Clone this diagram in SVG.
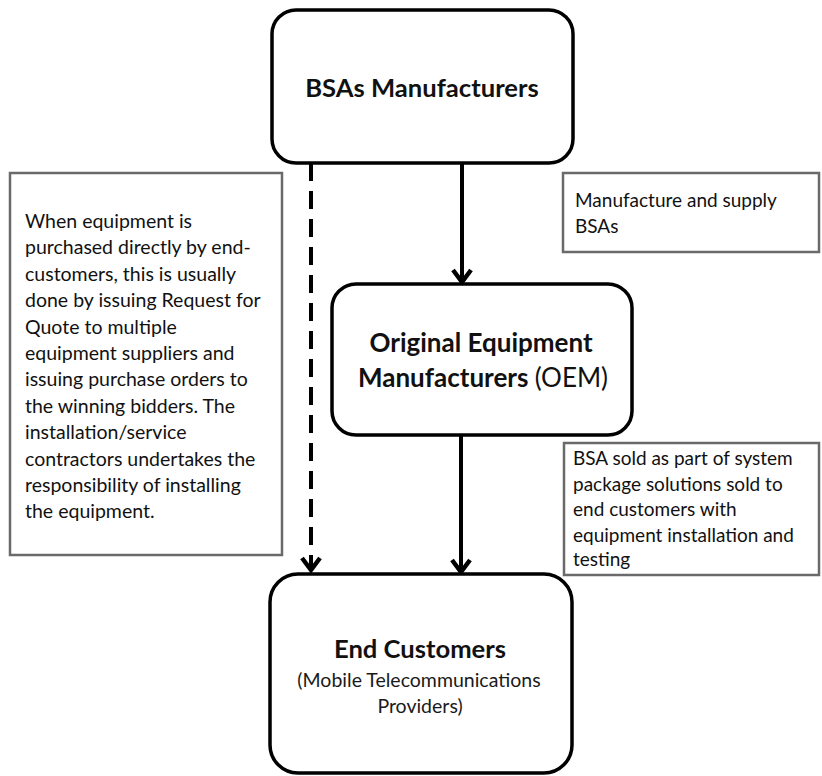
<svg xmlns="http://www.w3.org/2000/svg" width="822" height="776" viewBox="0 0 822 776">
<style>
.node{fill:#fff;stroke:#000;stroke-width:3.5}
.note{fill:#fff;stroke:#6a6a6a;stroke-width:2.5}
.lbl{font-family:Lato,"Liberation Sans",sans-serif;font-weight:bold;fill:#111;text-anchor:middle}
.sub{font-family:Lato,"Liberation Sans",sans-serif;fill:#1a1a1a;text-anchor:middle;font-size:19.5px}
.txt{font-family:Lato,"Liberation Sans",sans-serif;fill:#111;font-size:19.5px}
.txtr{font-family:Lato,"Liberation Sans",sans-serif;fill:#111;font-size:19px}
.conn{stroke:#000;fill:none;stroke-width:4}
</style>
<defs>
<marker id="ah" markerUnits="userSpaceOnUse" markerWidth="20" markerHeight="24" refX="15" refY="12" orient="auto" viewBox="0 0 20 24">
<path d="M3,3 L15,12 L3,21" fill="none" stroke="#000" stroke-width="4.5" stroke-linejoin="miter"/>
</marker>
</defs>
<rect width="822" height="776" fill="#fff"/>

<g id="note-left">
<rect class="note" x="10" y="173" width="272" height="382"/>
<text class="txt" x="25" y="228">When equipment is</text>
<text class="txt" x="25" y="254.4">purchased directly by end-</text>
<text class="txt" x="25" y="280.8">customers, this is usually</text>
<text class="txt" x="25" y="307.2">done by issuing Request for</text>
<text class="txt" x="25" y="333.6">Quote to multiple</text>
<text class="txt" x="25" y="360">equipment suppliers and</text>
<text class="txt" x="25" y="386.4">issuing purchase orders to</text>
<text class="txt" x="25" y="412.8">the winning bidders. The</text>
<text class="txt" x="25" y="439.2">installation/service</text>
<text class="txt" x="25" y="465.6">contractors undertakes the</text>
<text class="txt" x="25" y="492">responsibility of installing</text>
<text class="txt" x="25" y="518.4">the equipment.</text>
</g>

<g id="note-top-right">
<rect class="note" x="563" y="173" width="256" height="79"/>
<text class="txtr" x="575" y="207">Manufacture and supply</text>
<text class="txtr" x="575" y="233">BSAs</text>
</g>

<g id="note-bottom-right">
<rect class="note" x="564" y="443" width="255" height="132"/>
<text class="txtr" x="573" y="465">BSA sold as part of system</text>
<text class="txtr" x="573" y="491">package solutions sold to</text>
<text class="txtr" x="573" y="516">end customers with</text>
<text class="txtr" x="573" y="542">equipment installation  and</text>
<text class="txtr" x="573" y="566">testing</text>
</g>

<g id="connectors">
<line class="conn" x1="311" y1="163" x2="311" y2="570" stroke-width="5" stroke-dasharray="18 10" marker-end="url(#ah)"/>
<line class="conn" x1="462" y1="163" x2="462" y2="282" marker-end="url(#ah)"/>
<line class="conn" x1="461" y1="435" x2="461" y2="572" marker-end="url(#ah)"/>
</g>

<g id="bsas-manufacturers">
<rect class="node" x="272" y="10" width="301" height="153" rx="24"/>
<text class="lbl" x="422" y="97" font-size="25.6">BSAs Manufacturers</text>
</g>

<g id="oem">
<rect class="node" x="332" y="284" width="300" height="151" rx="24"/>
<text class="lbl" x="481" y="352" font-size="26">Original Equipment</text>
<text class="lbl" x="483" y="387" font-size="26"><tspan>Manufacturers </tspan><tspan font-weight="normal">(OEM)</tspan></text>
</g>

<g id="end-customers">
<rect class="node" x="270" y="574" width="302" height="199" rx="28"/>
<text class="lbl" x="420" y="658" font-size="25.6">End Customers</text>
<text class="sub" x="419" y="687">(Mobile Telecommunications</text>
<text class="sub" x="420" y="713">Providers)</text>
</g>
</svg>
